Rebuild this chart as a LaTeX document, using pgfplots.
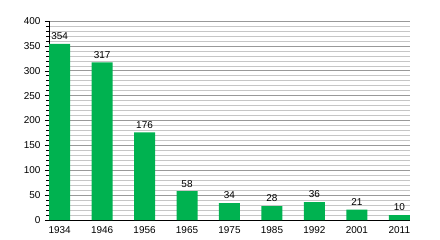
\documentclass[border=0pt]{standalone}
\usepackage{pgfplots}
\pgfplotsset{compat=1.18}
\usepackage{fontspec}
\setmainfont{Liberation Sans}
\definecolor{bargreen}{RGB}{0,178,80}
\begin{document}
\begin{tikzpicture}
\useasboundingbox (-49bp,-20bp) rectangle (391bp,220bp);
\begin{axis}[
  at={(0,0)}, anchor=south west,
  scale only axis,
  width=361bp, height=199bp,
  xmin=-0.25, xmax=8.25,
  ymin=0, ymax=400,
  axis x line*=bottom, axis y line*=left,
  axis line style={black, line width=0.8pt, -},
  xtick={0,...,8},
  xticklabels={1934,1946,1956,1965,1975,1985,1992,2001,2011},
  x tick style={draw=none},
  ytick={0,50,...,400},
  minor y tick num=4,
  ytick style={black, line width=0.5pt},
  tick align=outside,
  major tick length=4bp, minor tick length=2.5bp,
  ymajorgrids, yminorgrids,
  major grid style={gray!80, line width=0.6pt},
  minor grid style={gray!45, line width=0.5pt},
  tick label style={font=\fontsize{10}{11}\selectfont},
  /pgf/number format/assume math mode=true,
  xticklabel style={yshift=1bp},
  yticklabel style={xshift=-1bp},
  clip=false,
]
\addplot[ybar, bar width=21bp, fill=bargreen, draw=none,
  nodes near coords,
  every node near coord/.append style={font=\fontsize{10}{11}\selectfont, black, yshift=0.5bp},
  /pgf/number format/assume math mode=true]
  coordinates {(0,354) (1,317) (2,176) (3,58) (4,34) (5,28) (6,36) (7,21) (8,10)};
\end{axis}
\end{tikzpicture}
\end{document}
